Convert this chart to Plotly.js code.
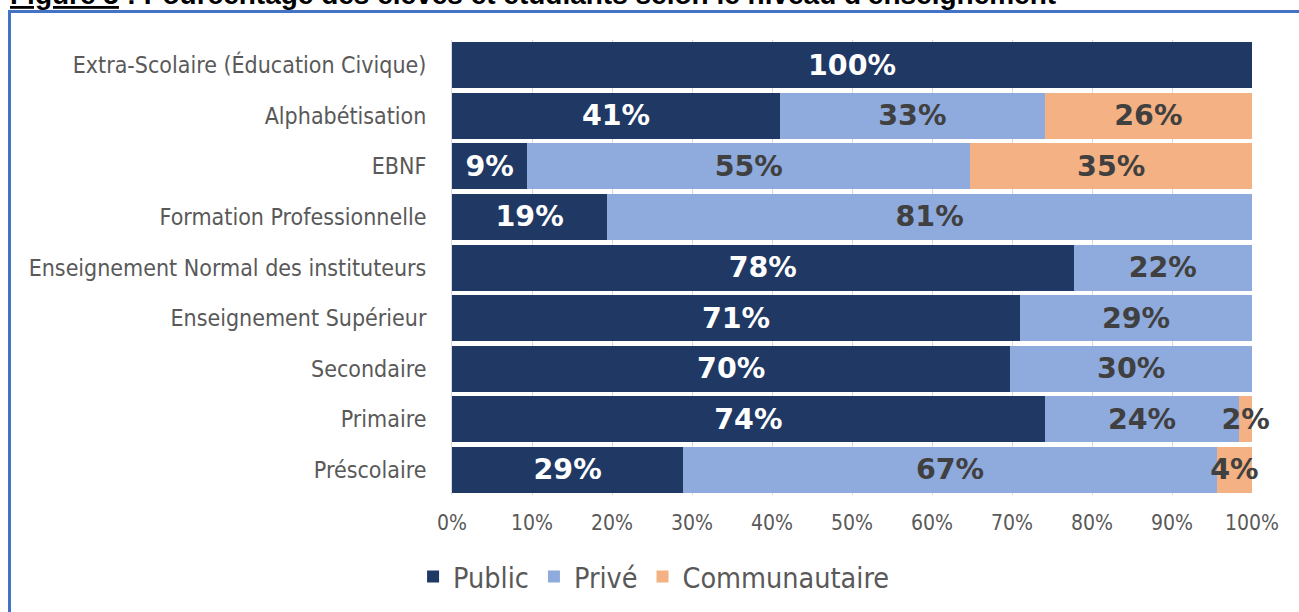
<!DOCTYPE html>
<html>
<head>
<meta charset="utf-8">
<script src="https://cdn.plot.ly/plotly-3.0.1.min.js"></script>
<style>
  html, body { margin: 0; padding: 0; background: #fff; }
  #wrap { position: relative; width: 1299px; height: 612px; overflow: hidden; }
  #frame { position: absolute; left: 8px; top: 10px; width: 1400px; height: 700px; border: 3px solid #4472C4; box-sizing: border-box; }
  #chart { position: absolute; left: 0; top: 0; width: 1299px; height: 612px; }
</style>
</head>
<body>
<div id="wrap">
  <div id="frame"></div>
  <div id="chart"></div>
</div>
<script>
const categories = [
  "Extra-Scolaire (Éducation Civique)",
  "Alphabétisation",
  "EBNF",
  "Formation Professionnelle",
  "Enseignement Normal des instituteurs",
  "Enseignement Supérieur",
  "Secondaire",
  "Primaire",
  "Préscolaire"
];
const publicVals = [100, 41.0, 9.4, 19.4, 77.7, 71.0, 69.8, 74.1, 28.9];
const priveVals  = [0, 33.1, 55.4, 80.6, 22.3, 29.0, 30.2, 24.3, 66.7];
const communVals = [0, 25.9, 35.2, 0, 0, 0, 0, 1.6, 4.4];
const seriesNames = ["Public", "Privé", "Communautaire"];
const titleText = '<span style="text-decoration:underline">Figure 5</span> : Pourcentage des élèves et étudiants selon le niveau d\'enseignement';

const colors = ["#203864", "#8FAADC", "#F4B183"];
const labelColors = ["#FFFFFF", "#404040", "#404040"];
const lbl = v => v > 0 ? Math.round(v) + "%" : "";

const traces = [publicVals, priveVals, communVals].map((vals, i) => ({
  type: "bar",
  orientation: "h",
  name: seriesNames[i],
  y: categories,
  x: vals,
  text: vals.map(lbl),
  textposition: "inside",
  insidetextanchor: "middle",
  textangle: 0,
  constraintext: "none",
  cliponaxis: false,
  textfont: { family: "DejaVu Sans", size: 28.5, color: labelColors[i], weight: "bold" },
  marker: { color: colors[i], line: { width: 0 } },
  hoverinfo: "skip"
}));

const layout = {
  width: 1299,
  height: 612,
  barmode: "stack",
  bargap: 0.09,
  paper_bgcolor: "rgba(0,0,0,0)",
  plot_bgcolor: "rgba(0,0,0,0)",
  margin: { l: 452, r: 47, t: 40, b: 117, pad: 0 },
  font: { family: "DejaVu Sans Condensed", color: "#595959" },
  xaxis: {
    range: [0, 100],
    dtick: 10,
    ticksuffix: "%",
    showgrid: true,
    gridcolor: "#D9D9D9",
    gridwidth: 1,
    zeroline: false,
    showline: false,
    ticks: "",
    ticklabelstandoff: 13,
    tickfont: { family: "DejaVu Sans Condensed", size: 21, color: "#595959" },
    fixedrange: true
  },
  yaxis: {
    type: "category",
    autorange: "reversed",
    showgrid: false,
    zeroline: false,
    showline: true,
    linecolor: "#D9D9D9",
    linewidth: 1,
    ticks: "",
    ticklabelstandoff: 20,
    tickfont: { family: "DejaVu Sans Condensed", size: 23, color: "#595959" },
    fixedrange: true
  },
  showlegend: true,
  legend: {
    orientation: "h",
    xref: "container",
    yref: "container",
    x: 0.318,
    xanchor: "left",
    y: 1 - 577 / 612,
    yanchor: "middle",
    font: { family: "DejaVu Sans Condensed", size: 28.5, color: "#595959" },
    traceorder: "normal",
    itemclick: false,
    itemdoubleclick: false
  },
  annotations: [{
    xref: "paper", yref: "paper",
    x: -444 / 800, xanchor: "left",
    y: 1 + 28 / 455, yanchor: "bottom",
    text: "<b>" + titleText + "</b>",
    showarrow: false,
    font: { family: "Liberation Sans", size: 28, color: "#000000" }
  }]
};

Plotly.newPlot("chart", traces, layout, { displayModeBar: false, staticPlot: true });
</script>
</body>
</html>
